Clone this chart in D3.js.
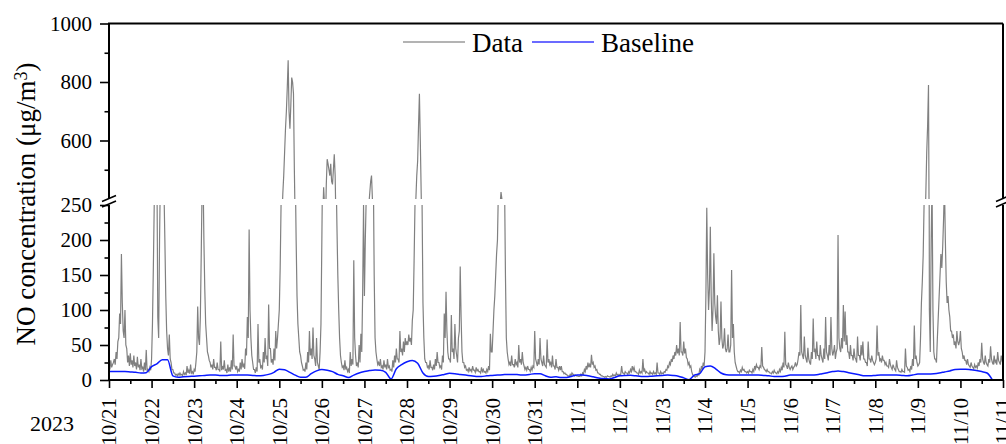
<!DOCTYPE html>
<html><head><meta charset="utf-8">
<script src="https://cdn.jsdelivr.net/npm/d3@7"></script>
<style>body{margin:0;background:#fff}svg{display:block}</style>
</head><body>
<svg id="chart" width="1006" height="444"></svg>
<script>
// ---------- data ----------
const dayLabels = ["10/21","10/22","10/23","10/24","10/25","10/26","10/27","10/28","10/29","10/30","10/31",
  "11/1","11/2","11/3","11/4","11/5","11/6","11/7","11/8","11/9","11/10","11/11"];
const yearLabel = "2023";
const upperTicks = [600, 800, 1000];
const upperMinor = [500, 700, 900];
const lowerTicks = [0, 50, 100, 150, 200, 250];
const lowerMinor = [25, 75, 125, 175, 225];

// NO concentration (µg/m3) on the hour (00:00 ... 23:00), one array per day
const d1021 = [20,28,22,30,40,55,95,180,70,100,45,35,38,28,35,25,33,22,30,18,25,43,15,18];
const d1022 = [30,160,300,310,60,300,330,270,120,45,65,25,15,10,8,9,10,8,12,10,20,14,22,12];
const d1023 = [15,25,105,50,180,300,130,60,35,25,22,30,18,25,15,55,20,28,15,22,18,28,65,20];
const d1024 = [20,15,25,30,22,45,90,215,60,25,15,18,80,30,20,40,60,35,108,45,30,45,70,60];
const d1025 = [100,250,420,560,700,874,640,815,760,300,120,60,35,20,15,25,40,70,45,75,30,60,20,40];
const d1026 = [200,440,300,536,500,520,450,553,300,150,60,25,20,28,18,15,40,30,171,35,25,50,66,125];
const d1027 = [120,260,320,420,480,300,60,30,25,30,20,28,22,30,20,15,28,35,45,30,70,45,55,60];
const d1028 = [55,65,60,85,170,400,530,760,420,110,30,25,20,28,18,22,30,40,25,20,35,95,126,40];
const d1029 = [30,93,45,80,35,60,162,40,25,20,15,18,15,20,14,18,15,12,18,15,12,15,20,66];
const d1030 = [40,100,150,200,330,424,350,280,60,30,25,35,22,30,25,50,30,40,20,18,20,15,18,20];
const d1031 = [70,25,30,60,25,35,20,58,30,25,35,20,30,18,20,20,12,10,8,6,8,10,8,7];
const d1101 = [6,5,8,10,15,20,25,22,36,25,20,15,10,8,6,5,5,6,5,6,8,7,10,8];
const d1102 = [8,20,10,12,10,12,15,20,18,12,10,14,12,30,15,12,10,12,10,12,10,25,10,12];
const d1103 = [10,12,15,20,25,30,35,40,50,45,83,40,55,45,30,25,20,8,5,6,8,15,20,25];
const d1104 = [40,246,100,219,70,181,90,121,50,112,45,74,40,65,40,157,80,25,15,12,14,18,15,12];
const d1105 = [12,14,12,15,20,22,18,20,47,18,14,15,12,10,12,14,10,12,15,18,25,69,20,25];
const d1106 = [15,20,18,25,22,40,107,35,62,30,46,25,40,88,45,55,35,50,30,45,90,35,50,90];
const d1107 = [35,50,40,207,45,60,107,98,64,40,50,35,45,30,62,35,50,55,30,25,55,30,35,25];
const d1108 = [25,78,40,30,35,28,25,20,30,18,22,15,28,15,12,15,12,45,18,15,20,30,78,35];
const d1109 = [20,25,110,178,300,560,790,40,280,40,30,60,120,180,190,280,140,120,90,70,65,55,70,50];
const d1110 = [70,40,35,28,30,20,25,18,22,20,25,30,53,25,35,22,30,48,25,35,28,40,25,35];
// NO concentration at half past each hour (00:30 ... 23:30)
const m1021 = [15,18,25,22,30,60,80,110,60,50,25,20,22,18,20,15,18,14,16,12,14,12,12,14];
const m1022 = [80,250,280,90,200,290,310,200,70,35,30,15,10,7,6,7,7,6,8,7,10,9,10,8];
const m1023 = [12,40,60,90,280,200,80,40,28,18,15,18,14,15,12,14,15,14,10,12,12,15,20,15];
const m1024 = [12,12,15,18,16,35,60,100,35,15,10,12,25,18,15,25,30,20,45,25,22,28,45,80];
const m1025 = [160,330,480,640,780,700,720,800,500,200,80,40,25,14,12,15,25,35,30,35,20,25,15,80];
const m1026 = [330,380,450,520,480,460,500,480,220,100,35,18,14,15,12,10,20,22,60,20,18,25,40,250];
const m1027 = [200,300,380,460,400,150,40,22,20,18,15,18,15,18,14,12,18,25,30,25,40,35,40,50];
const m1028 = [50,55,50,100,250,480,650,600,250,60,25,18,15,18,14,15,20,25,18,15,25,60,70,30];
const m1029 = [25,40,30,45,25,70,90,25,18,14,12,13,12,14,11,13,12,10,12,11,10,12,14,40];
const m1030 = [70,120,180,270,380,400,320,150,40,22,20,22,18,22,18,25,22,25,15,14,15,12,14,18];
const m1031 = [30,20,22,30,20,22,18,25,22,18,20,15,18,14,14,12,9,8,6,5,6,8,6,6];
const m1101 = [5,5,6,8,12,15,18,18,22,18,14,10,8,6,5,4,4,5,4,5,6,6,7,6];
const m1102 = [8,10,8,10,8,10,12,14,12,10,8,10,10,12,10,10,8,9,8,9,8,10,8,9];
const m1103 = [9,11,14,18,22,26,30,35,38,35,40,35,38,32,22,18,12,6,4,5,7,12,15,20];
const m1104 = [120,150,130,120,100,110,80,70,60,60,50,45,45,40,50,60,40,20,12,10,12,14,12,10];
const m1105 = [10,12,10,12,16,18,15,18,20,15,12,12,10,9,10,11,9,10,12,14,18,22,16,18];
const m1106 = [18,15,20,20,30,35,40,30,35,25,30,22,30,40,30,35,28,35,25,30,40,28,35,45];
const m1107 = [40,30,45,60,40,45,55,50,40,30,35,28,32,25,35,28,35,30,25,20,30,25,28,22];
const m1108 = [30,35,28,25,28,22,20,18,22,15,18,13,18,12,11,12,11,20,14,12,15,20,30,25];
const m1109 = [22,60,140,250,420,650,100,200,100,30,25,90,150,160,230,200,110,100,70,60,50,45,55,55];
const m1110 = [45,30,28,22,22,18,20,16,18,17,20,25,30,22,25,20,25,30,22,25,22,28,22,28];
const dataLast = 30; // 11/11 00:00
const dataDays = [d1021,d1022,d1023,d1024,d1025,d1026,d1027,d1028,d1029,d1030,d1031,
  d1101,d1102,d1103,d1104,d1105,d1106,d1107,d1108,d1109,d1110];
const halfDays = [m1021,m1022,m1023,m1024,m1025,m1026,m1027,m1028,m1029,m1030,m1031,
  m1101,m1102,m1103,m1104,m1105,m1106,m1107,m1108,m1109,m1110];

// 3-hourly baseline (00,03,...,21h), one array per day
const b1021 = [12,12,12,12,11.5,11,10,10.5];
const b1022 = [19,23,29,29,6,4,4.5,5];
const b1023 = [5.5,6,6.5,7,7,6.5,6.5,7];
const b1024 = [7,7,7,6.5,6,6.5,8,11];
const b1025 = [15.5,14.5,11,7,4,4,9,13];
const b1026 = [15,14,12,8,6,3.5,7,10];
const b1027 = [12,13.5,14.3,14,11,1.5,16,22];
const b1028 = [26,28,24,10,5,5.5,6.5,8];
const b1029 = [9.5,9,8,7,6,5,5,6];
const b1030 = [6.5,7,7.5,8,8,7.5,7,8];
const b1031 = [9,9,6,4,4.5,3.5,3.5,5.5];
const b1101 = [7,7,6,4.5,3,2,1.5,3.5];
const b1102 = [6,6.5,6.7,6,5,5,5.5,6];
const b1103 = [6.5,7,6.5,5.5,3,0.5,7,9];
const b1104 = [19,20,16,10,7.5,7,7,7];
const b1105 = [7,7,7,6.5,6,5,5,5.5];
const b1106 = [7,7,7,7,7,7.5,9,10.5];
const b1107 = [12,13,12,10.5,9,7.5,6,6];
const b1108 = [6.5,7,7,7,7,6.5,6,7];
const b1109 = [8.5,8.5,8.5,9,10,11.5,13,15];
const b1110 = [15.5,15.5,14.5,13.5,12,10,0];
const baseDays = [b1021,b1022,b1023,b1024,b1025,b1026,b1027,b1028,b1029,b1030,b1031,
  b1101,b1102,b1103,b1104,b1105,b1106,b1107,b1108,b1109,b1110];

// ---------- build ----------
const dataPts = [];
dataDays.forEach((arr, di) => arr.forEach((v, h) => {
  dataPts.push({t: Date.UTC(2023, 9, 21 + di, h), v});
  dataPts.push({t: Date.UTC(2023, 9, 21 + di, h, 30), v: halfDays[di][h]});
}));
dataPts.push({t: Date.UTC(2023, 10, 11, 0), v: dataLast});
const basePts = [];
baseDays.forEach((arr, di) => arr.forEach((v, k) => basePts.push({t: Date.UTC(2023, 9, 21 + di, 3 * k), v})));

const FONT = '"Liberation Serif","Times New Roman",serif';
const L = 109, R = 1003;
const svg = d3.select("#chart");
const x = d3.scaleUtc().domain([Date.UTC(2023, 9, 21), Date.UTC(2023, 10, 11)]).range([L, R]);
const yUp = d3.scaleLinear().domain([400, 1000]).range([199, 23.5]);
const yLo = d3.scaleLinear().domain([0, 250]).range([380, 205]);

const defs = svg.append("defs");
defs.append("clipPath").attr("id", "clipLo").append("rect")
  .attr("x", L).attr("y", yLo(250)).attr("width", R - L).attr("height", yLo(0) - yLo(250));
defs.append("clipPath").attr("id", "clipUp").append("rect")
  .attr("x", L).attr("y", yUp(1000)).attr("width", R - L).attr("height", yUp(400) - yUp(1000));

const lineLo = d3.line().x(d => x(d.t)).y(d => yLo(d.v));
const lineUp = d3.line().x(d => x(d.t)).y(d => yUp(d.v));

svg.append("path").datum(dataPts).attr("clip-path", "url(#clipLo)")
  .attr("d", lineLo).attr("fill", "none").attr("stroke", "#808080").attr("stroke-width", 1.2);
svg.append("path").datum(dataPts).attr("clip-path", "url(#clipUp)")
  .attr("d", lineUp).attr("fill", "none").attr("stroke", "#808080").attr("stroke-width", 1.2);
svg.append("path").datum(basePts).attr("clip-path", "url(#clipLo)")
  .attr("d", d3.line().x(d => x(d.t)).y(d => yLo(d.v)).curve(d3.curveMonotoneX))
  .attr("fill", "none").attr("stroke", "#0a1aff").attr("stroke-width", 1.5);

// ---------- axes ----------
function styleAxis(g) {
  g.attr("font-family", null).attr("font-size", null);
  g.select(".domain").remove();
  g.selectAll(".tick line").attr("stroke", "#000").attr("stroke-width", 1.6);
  g.selectAll(".tick text").attr("fill", "#000").style("font-family", FONT).style("font-size", "21px");
}
const fmt = d3.format("d");
svg.append("g").attr("transform", `translate(${L},0)`)
  .call(d3.axisLeft(yLo).tickValues(lowerTicks).tickSize(9).tickPadding(8).tickFormat(fmt)).call(styleAxis);
svg.append("g").attr("transform", `translate(${L},0)`)
  .call(d3.axisLeft(yLo).tickValues(lowerMinor).tickSize(4.5).tickFormat("")).call(styleAxis);
svg.append("g").attr("transform", `translate(${L},0)`)
  .call(d3.axisLeft(yUp).tickValues(upperTicks).tickSize(9).tickPadding(8).tickFormat(fmt)).call(styleAxis);
svg.append("g").attr("transform", `translate(${L},0)`)
  .call(d3.axisLeft(yUp).tickValues(upperMinor).tickSize(4.5).tickFormat("")).call(styleAxis);

const dayTicks = d3.utcDay.range(Date.UTC(2023, 9, 21), Date.UTC(2023, 10, 11, 1));
const halfTicks = dayTicks.slice(0, -1).map(d => d3.utcHour.offset(d, 12));
const gx = svg.append("g").attr("transform", `translate(0,${yLo(0)})`)
  .call(d3.axisBottom(x).tickValues(dayTicks).tickSize(8).tickFormat((d, i) => dayLabels[i])).call(styleAxis);
gx.selectAll(".tick text").attr("text-anchor", "end").attr("transform", "rotate(-90)")
  .attr("x", -18).attr("y", 0).attr("dy", "0.33em");
svg.append("g").attr("transform", `translate(0,${yLo(0)})`)
  .call(d3.axisBottom(x).tickValues(halfTicks).tickSize(4).tickFormat("")).call(styleAxis);

// frame
const frame = svg.append("g").attr("stroke", "#000").attr("stroke-width", 2).attr("fill", "none");
frame.append("line").attr("x1", L - 1).attr("x2", R).attr("y1", yUp(1000)).attr("y2", yUp(1000));
frame.append("line").attr("x1", L - 1).attr("x2", R + 1).attr("y1", yLo(0)).attr("y2", yLo(0));
[L, R].forEach(xx => {
  frame.append("line").attr("x1", xx).attr("x2", xx).attr("y1", yUp(1000)).attr("y2", yUp(400));
  frame.append("line").attr("x1", xx).attr("x2", xx).attr("y1", yLo(250)).attr("y2", yLo(0));
  const yb = (yUp(400) + yLo(250)) / 2;
  frame.append("line").attr("x1", xx - 7).attr("x2", xx + 7).attr("y1", yb - 0.5).attr("y2", yb - 6.5).attr("stroke-width", 1.6);
  frame.append("line").attr("x1", xx - 7).attr("x2", xx + 7).attr("y1", yb + 5).attr("y2", yb - 1).attr("stroke-width", 1.6);
});

// year label
svg.append("text").attr("x", 52).attr("y", 431).attr("text-anchor", "middle")
  .style("font-family", FONT).style("font-size", "22px").text(yearLabel);

// y title
const yt = svg.append("text").attr("transform", "translate(35,204) rotate(-90)").attr("text-anchor", "middle")
  .style("font-family", FONT).style("font-size", "27px");
yt.append("tspan").text("NO concentration (μg/m");
yt.append("tspan").attr("dy", "-0.45em").style("font-size", "18px").text("3");
yt.append("tspan").attr("dy", "0.3em").text(")");

// legend
const legend = [{name: "Data", color: "#9a9a9a", x1: 403, x2: 465, tx: 472},
                {name: "Baseline", color: "#3a3aff", x1: 532, x2: 594, tx: 601}];
const lg = svg.append("g");
legend.forEach(d => {
  lg.append("line").attr("x1", d.x1).attr("x2", d.x2).attr("y1", 42).attr("y2", 42)
    .attr("stroke", d.color).attr("stroke-width", 1.6);
  lg.append("text").attr("x", d.tx).attr("y", 51.5).style("font-family", FONT).style("font-size", "27px").text(d.name);
});
</script>
</body></html>
